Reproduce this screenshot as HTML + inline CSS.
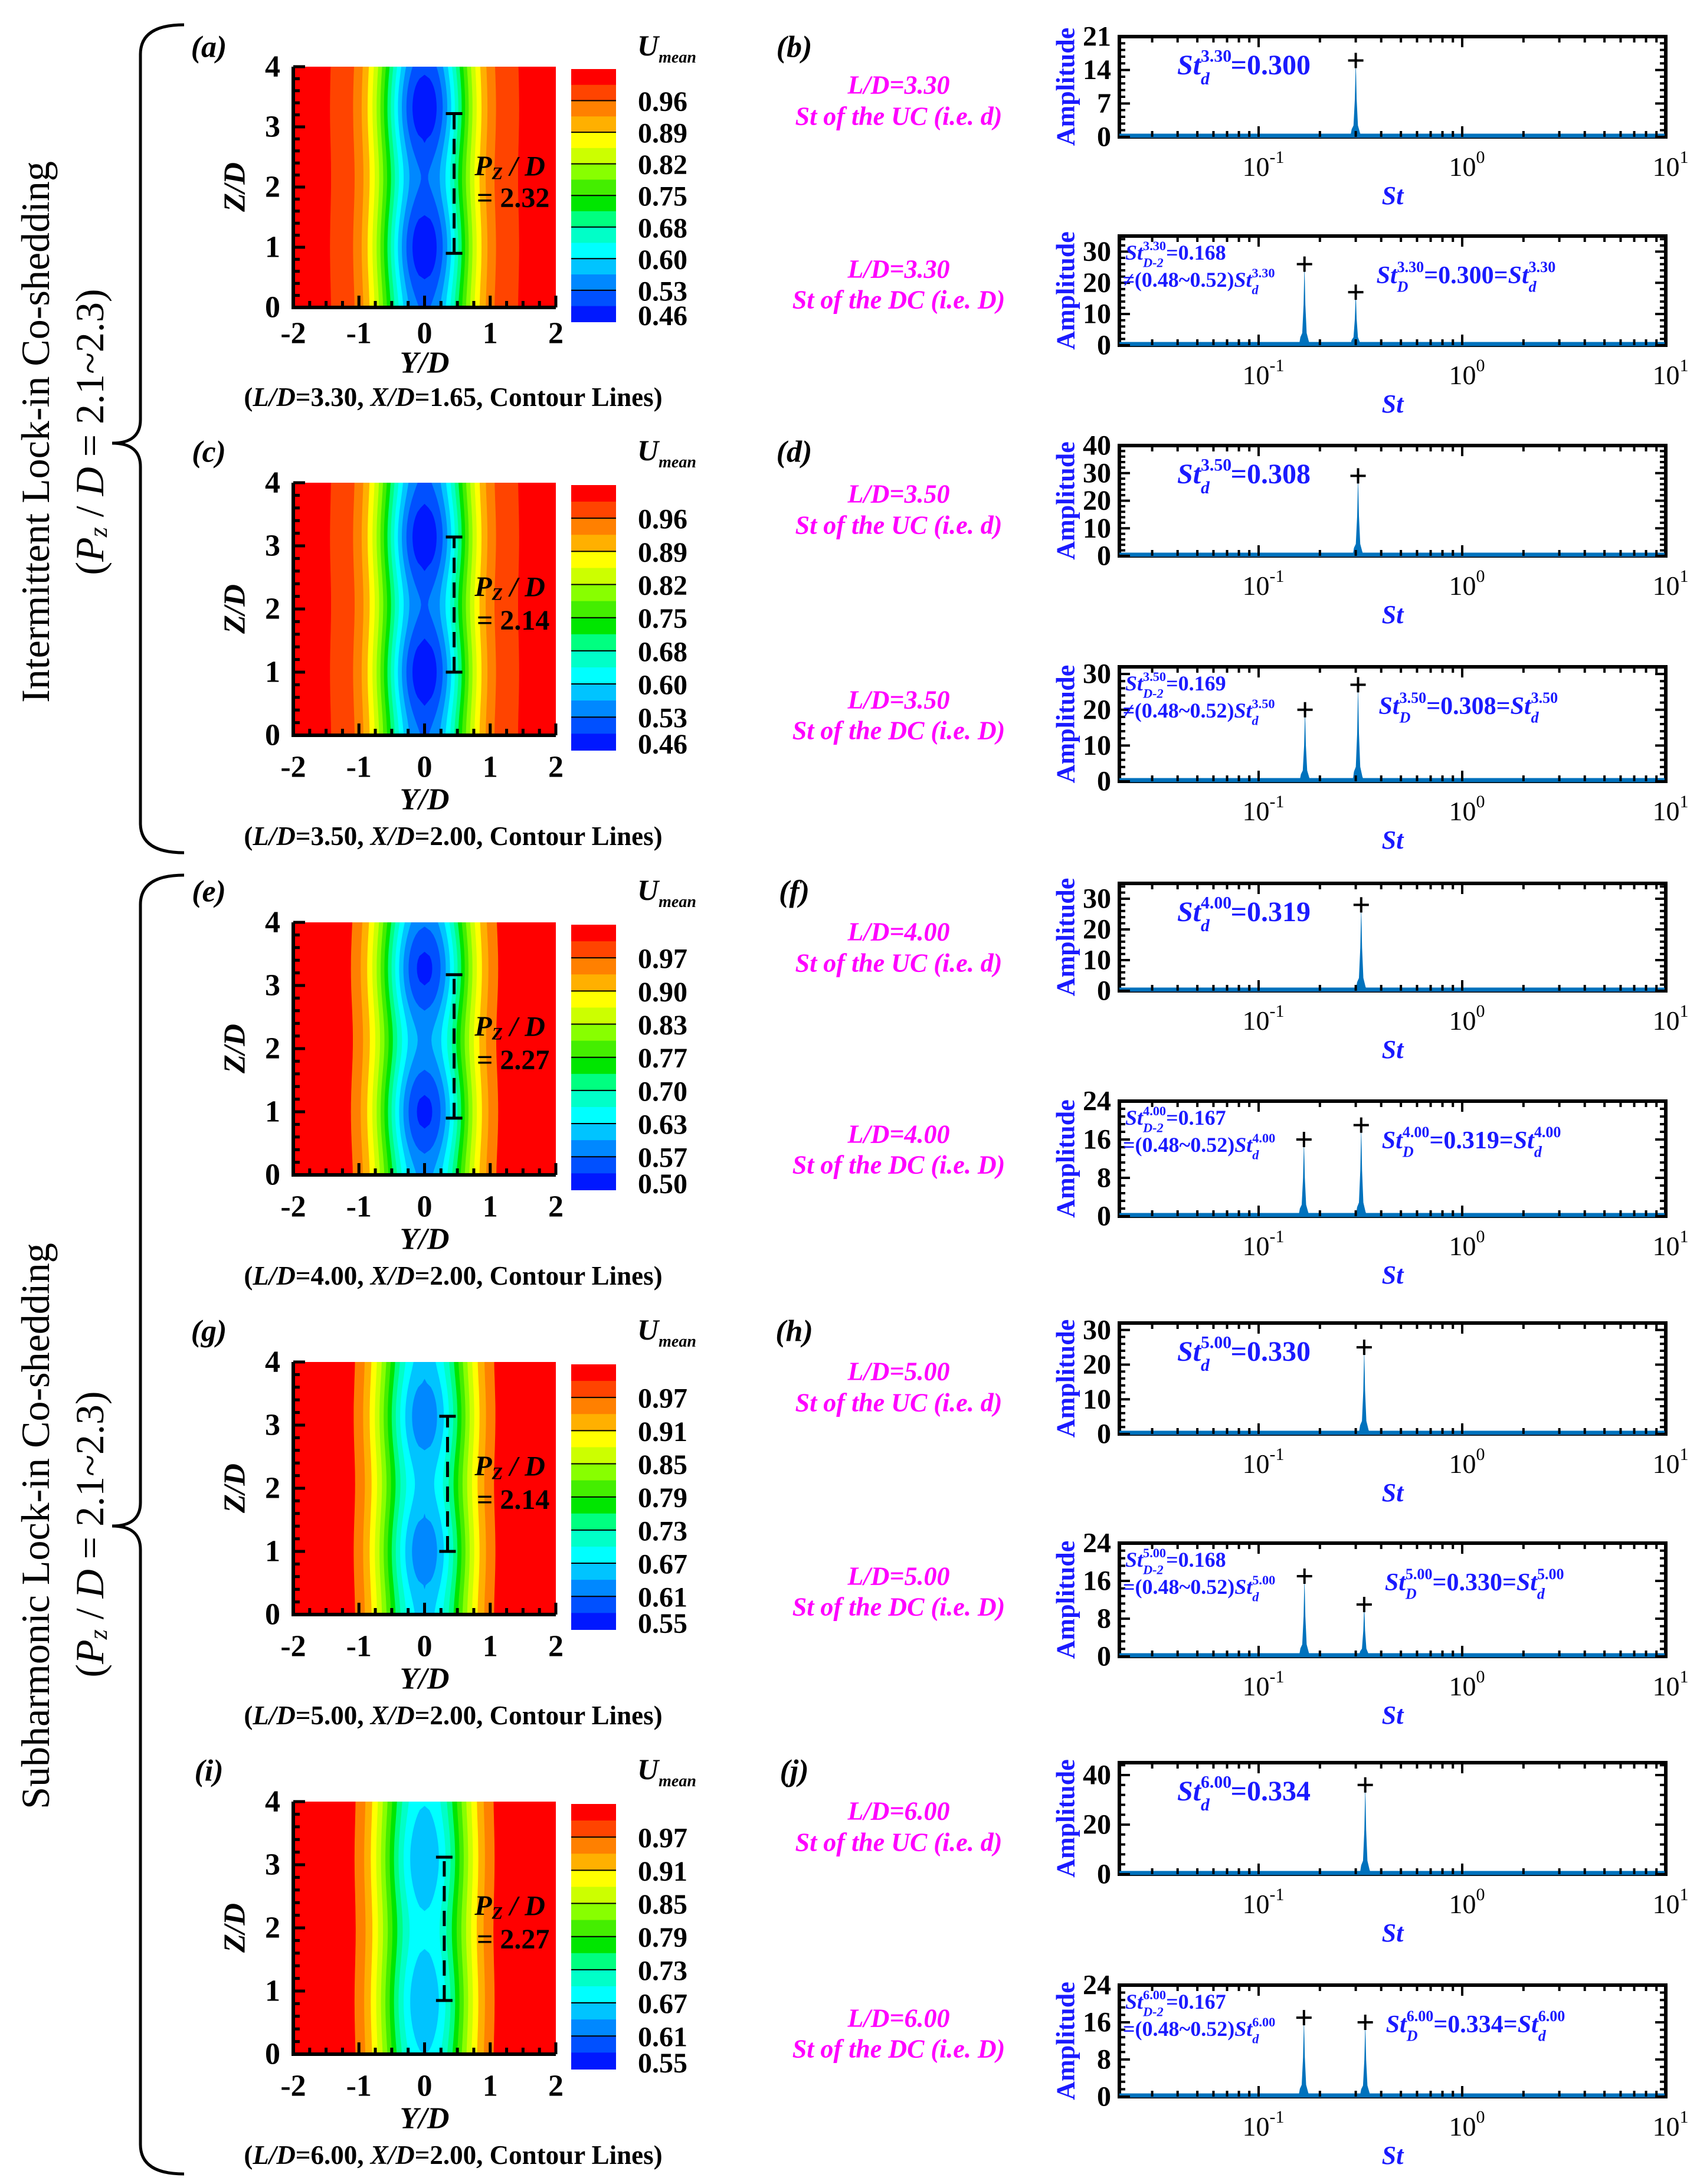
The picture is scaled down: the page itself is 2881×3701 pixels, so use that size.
<!DOCTYPE html>
<html><head><meta charset="utf-8"><title>Co-shedding figure</title>
<style>
html,body{margin:0;padding:0;background:#fff;}
svg{display:block;}
text{font-family:"Liberation Serif",serif;}
</style></head>
<body>
<svg id="fig" xmlns="http://www.w3.org/2000/svg" width="2881" height="3701" viewBox="0 0 2881 3701">
<rect width="2881" height="3701" fill="#fff"/>
</svg>
<script>
// ---------- contour panel data ----------
const panelIds = ['a','c','e','g','i'];
const ldValues = ['3.30','3.50','4.00','5.00','6.00'];
const xdValues = ['1.65','2.00','2.00','2.00','2.00'];
const cbarLabels0 = ['0.96','0.89','0.82','0.75','0.68','0.60','0.53','0.46'];
const cbarLabels1 = ['0.96','0.89','0.82','0.75','0.68','0.60','0.53','0.46'];
const cbarLabels2 = ['0.97','0.90','0.83','0.77','0.70','0.63','0.57','0.50'];
const cbarLabels3 = ['0.97','0.91','0.85','0.79','0.73','0.67','0.61','0.55'];
const cbarLabels4 = ['0.97','0.91','0.85','0.79','0.73','0.67','0.61','0.55'];
const wakeDeficitMean = [0.5,0.5,0.44,0.36,0.34];
const wakeDeficitVar = [0.03,0.03,0.035,0.02,0.015];
const blobZ = [1.0,1.0,1.0,1.0,3.1];
const pzValues = [2.32,2.14,2.27,2.14,2.27];
const pzBarY = [0.45,0.45,0.45,0.35,0.3];
const pzBarZ0 = [0.9,1.0,0.9,1.0,0.85];
const yTickVals = [-2,-1,0,1,2];
const zTickVals = [0,1,2,3,4];
// ---------- spectrum data ----------
const ucLetters = ['b','d','f','h','j'];
const stUC = [0.300,0.308,0.319,0.330,0.334];
const ampUC = [16,29,28,25,36];
const yMaxUC = [21,40,35,32,45];
const yTicksUC0 = [0,7,14,21];
const yTicksUC1 = [0,10,20,30,40];
const yTicksUC2 = [0,10,20,30];
const yTicksUC3 = [0,10,20,30];
const yTicksUC4 = [0,20,40];
const stD2 = [0.168,0.169,0.167,0.168,0.167];
const ampD2 = [26,20,16,17,17];
const stD = [0.300,0.308,0.319,0.330,0.334];
const ampD = [17,27,19,11,16];
const yMaxDC = [35,32,24,24,24];
const yTicksDC0 = [0,10,20,30];
const yTicksDC1 = [0,10,20,30];
const yTicksDC2 = [0,8,16,24];
const yTicksDC3 = [0,8,16,24];
const yTicksDC4 = [0,8,16,24];
const relSym = ['≠','≠','=','=','='];
const xTickExps = [-1,0,1];

// ---------- layout (not data) ----------
const cbarLabelSets=[cbarLabels0,cbarLabels1,cbarLabels2,cbarLabels3,cbarLabels4];
const yTicksUCSets=[yTicksUC0,yTicksUC1,yTicksUC2,yTicksUC3,yTicksUC4];
const yTicksDCSets=[yTicksDC0,yTicksDC1,yTicksDC2,yTicksDC3,yTicksDC4];
const cTops=[113,818,1563,2308,3053];
const cHs=[408,428,428,428,428];
const ucTop=[62,755,1497,2242,2987], ucBot=[232,942,1679,2430,3176];
const dcTop=[400,1130,1866,2615,3364], dcBot=[585,1324,2061,2807,3553];
const jet=['#ff0000','#ff4400','#ff8000','#ffb000','#ffff00','#ccff00','#88ff00','#44ee00','#00e600','#00ff80','#00ffc8','#00ffff','#00c4ff','#0088ff','#0050ff','#0018ff'];

const NS='http://www.w3.org/2000/svg';
const svg=document.getElementById('fig');
function mk(tag,parent){const e=document.createElementNS(NS,tag);parent.appendChild(e);return e;}
function at(e,o){for(const k in o)e.setAttribute(k,o[k]);return e;}
function txt(parent,x,y,html,size,extra){
  const t=mk('text',parent);
  at(t,{x:x,y:y,'font-size':size,'font-weight':'bold'});
  if(extra)at(t,extra);
  t.innerHTML=html;return t;
}
function cw(s,fs){let w=0;for(const c of s){if('0123456789'.includes(c))w+=0.5;else if(c==='.')w+=0.25;else if(c==='-')w+=0.33;else if(c==='D')w+=0.72;else w+=0.55;}return w*fs;}
function stH(sup,sub,fs,rest){
  const s=fs*0.62;const sw=cw(sup,s),bw=cw(sub,s);
  return `<tspan font-style="italic">St</tspan><tspan font-size="${s}" dy="${-fs*0.45}">${sup}</tspan><tspan font-size="${s}" font-style="italic" dx="${-sw}" dy="${fs*0.8}">${sub}</tspan><tspan dx="${Math.max(0,sw-bw)}" dy="${-fs*0.35}">${rest}</tspan>`;
}

// ---------- brackets & side titles ----------
const brk=mk('g',svg);


function brace(y0,y1,ty,name){
  const p=mk('path',brk);
  at(p,{d:`M312,${y0} Q238,${y0} 238,${y0+50} L238,${ty-40} Q238,${ty} 190,${ty} Q238,${ty} 238,${ty+40} L238,${y1-50} Q238,${y1} 312,${y1}`,fill:'none',stroke:'#000','stroke-width':5});
  
  
}
brace(42,1445,751,'bracket-intermittent');
brace(1483,3684,2586,'bracket-subharmonic');
function sideText(x,y,html,name){
  const t=txt(brk,0,0,html,68,{'font-weight':'normal','text-anchor':'middle',transform:`translate(${x},${y}) rotate(-90)`,'dominant-baseline':'central'});
  
  
}
sideText(60,732,'Intermittent  Lock-in Co-shedding','title-intermittent');
sideText(152,732,'(<tspan font-style="italic">P</tspan><tspan font-size="44" dy="14" font-style="italic">z</tspan><tspan dy="-14"> / </tspan><tspan font-style="italic">D</tspan> = 2.1~2.3)','title-intermittent-range');
sideText(60,2586,'Subharmonic Lock-in Co-shedding','title-subharmonic');
sideText(152,2600,'(<tspan font-style="italic">P</tspan><tspan font-size="44" dy="14" font-style="italic">z</tspan><tspan dy="-14"> / </tspan><tspan font-style="italic">D</tspan> = 2.1~2.3)','title-subharmonic-range');

// ---------- contour panels ----------
const defs=mk('defs',svg);
for(let i=0;i<5;i++){
  const id=panelIds[i],top=cTops[i],h=cHs[i],L=497,R=942,B=top+h;
  const sx=Y=>L+(Y+2)/4*(R-L), sz=Z=>B-Z/4*h;
  const g=mk('g',svg);
  
  
  const cp=mk('clipPath',defs);cp.setAttribute('id','clip'+i);
  at(mk('rect',cp),{x:L,y:top,width:R-L,height:h});
  const fld=mk('g',g);at(fld,{'clip-path':`url(#clip${i})`});
  
  
  const bg=mk('rect',fld);at(bg,{x:L,y:top,width:R-L,height:h,fill:jet[0]});
  
  
  const labs=cbarLabelSets[i];
  const l0=parseFloat(labs[0]),step=(l0-parseFloat(labs[7]))/7;
  const Pz=pzValues[i],sig=0.71,ex=0.45;
  const A=Z=>wakeDeficitMean[i]+wakeDeficitVar[i]*Math.cos(2*Math.PI*(Z-blobZ[i])/Pz);
  for(let k=1;k<16;k++){
    const Lk=l0-(k-2)*step/2;
    const right=[],left=[];
    for(let n=0;n<=60;n++){
      const Z=n/60*4;const a=A(Z);const r=(1-Lk)/a;
      const w=r<1?sig*Math.pow(-Math.log(r),ex):0;
      right.push(`${sx(w).toFixed(1)},${sz(Z).toFixed(1)}`);
      left.unshift(`${sx(-w).toFixed(1)},${sz(Z).toFixed(1)}`);
    }
    const pg=mk('polygon',fld);at(pg,{points:right.concat(left).join(' '),fill:jet[k]});
    
    
  }
  const ax=mk('path',g);at(ax,{d:`M${L},${top} L${L},${B} L${R},${B}`,fill:'none',stroke:'#000','stroke-width':6});
  
  
  let td='';
  for(let z=0;z<=4.001;z+=0.2){const maj=Math.abs(z-Math.round(z))<0.01;td+=`M${L},${sz(z)} h${maj?20:11} `;}
  for(let y=-2;y<=2.001;y+=0.25){const maj=Math.abs(y-Math.round(y))<0.01;td+=`M${sx(y)},${B} v${maj?-20:-11} `;}
  const tk=mk('path',g);at(tk,{d:td,stroke:'#000','stroke-width':5});
  
  
  const tyo=i===0?44:54, tto=i===0?94:109, cco=i===0?152:171;
  for(const v of yTickVals){const t=txt(g,sx(v),B+tyo,String(v),52,{'text-anchor':'middle','dominant-baseline':'central'});
    }
  for(const v of zTickVals){const t=txt(g,L-22,sz(v),String(v),52,{'text-anchor':'end','dominant-baseline':'central'});
    }
  const yt=txt(g,(L+R)/2,B+tto,'Y/D',52,{'text-anchor':'middle','dominant-baseline':'central','font-style':'italic'});
  
  const zt=txt(g,0,0,'Z/D',52,{'text-anchor':'middle','dominant-baseline':'central','font-style':'italic',transform:`translate(398,${top+h/2}) rotate(-90)`});
  
  const cap=txt(g,768,B+cco,`(<tspan font-style="italic">L/D</tspan>=${ldValues[i]}, <tspan font-style="italic">X/D</tspan>=${xdValues[i]}, Contour Lines)`,45,{'text-anchor':'middle','dominant-baseline':'central'});
  
  const ly=i===0?80:top-52;
  const lt=txt(g,354,ly,`(${id})`,52,{'text-anchor':'middle','dominant-baseline':'central','font-style':'italic'});
  
  const cbT=top+4,cbH=h*1.05,cbL=968,cbW=76;
  const cb=mk('g',g);
  
  
  for(let k=0;k<16;k++){const r=mk('rect',cb);at(r,{x:cbL,y:cbT+k*cbH/16,width:cbW,height:cbH/16+0.6,fill:jet[k]});
    }
  let cl='';for(let k=2;k<16;k+=2)cl+=`M${cbL},${cbT+k*cbH/16} h${cbW} `;
  const cbl=mk('path',cb);at(cbl,{d:cl,stroke:'#000','stroke-width':2});
  for(let j=0;j<8;j++){const t=txt(cb,1165,cbT+(2*j+2)*cbH/16-(j===7?10:-2),labs[j],48,{'text-anchor':'end','dominant-baseline':'central'});
    }
  const ut=txt(g,1080,ly+14,'U<tspan font-size="28" dy="12">mean</tspan>',50,{'font-style':'italic'});
  
  const bx=sx(pzBarY[i]),z0=pzBarZ0[i],z1=z0+pzValues[i];
  const pm=mk('g',g);
  
  
  at(mk('line',pm),{x1:bx,y1:sz(z0),x2:bx,y2:sz(z1),stroke:'#000','stroke-width':5,'stroke-dasharray':'26,16'});
  at(mk('path',pm),{d:`M${bx-14},${sz(z0)} h28 M${bx-14},${sz(z1)} h28`,stroke:'#000','stroke-width':5});
  const pl=txt(pm,sx(1.3),sz(2.35),'P<tspan font-size="30" dy="12">Z</tspan><tspan dy="-12"> / D</tspan>',48,{'text-anchor':'middle','dominant-baseline':'central','font-style':'italic'});
  
  const pv=txt(pm,sx(1.35),sz(1.82),'= '+pzValues[i].toFixed(2),48,{'text-anchor':'middle','dominant-baseline':'central'});
  
}

// ---------- spectra ----------
const SL=1897,SR=2823,logMin=-1.684,logMax=1;
const sxS=s=>SL+(Math.log10(s)-logMin)/(logMax-logMin)*(SR-SL);
function spectrum(i,kind){
  const top=kind==='uc'?ucTop[i]:dcTop[i],bot=kind==='uc'?ucBot[i]:dcBot[i];
  const yMax=kind==='uc'?yMaxUC[i]:yMaxDC[i];
  const ticks=kind==='uc'?yTicksUCSets[i]:yTicksDCSets[i];
  const sy=a=>bot-a/yMax*(bot-top);
  const g=mk('g',svg);
  
  
  const fr=mk('rect',g);at(fr,{x:SL,y:top,width:SR-SL,height:bot-top,fill:'#fff',stroke:'#000','stroke-width':6});
  
  const sts=kind==='uc'?[stUC[i]]:[stD2[i],stD[i]];
  const amps=kind==='uc'?[ampUC[i]]:[ampD2[i],ampD[i]];
  for(let p=0;p<sts.length;p++){
    const s=sts[p],a=amps[p];
    const pts=[[s*0.94,0],[s*0.955,a*0.1],[s*0.975,a*0.15],[s*0.99,a*0.5],[s,a],[s*1.01,a*0.5],[s*1.025,a*0.15],[s*1.05,a*0.05],[s*1.07,0]];
    const pk=mk('polygon',g);at(pk,{points:pts.map(q=>`${sxS(q[0]).toFixed(1)},${sy(q[1]).toFixed(1)}`).join(' '),fill:'#0072bd'});
    
    const mx=sxS(s),my=sy(a);
    const mkr=mk('path',g);at(mkr,{d:`M${mx-13},${my} h26 M${mx},${my-13} v26`,stroke:'#000','stroke-width':4});
    
  }
  const bl=mk('line',g);at(bl,{x1:SL,y1:bot-2,x2:SR,y2:bot-2,stroke:'#0072bd','stroke-width':7});
  
  let td='';
  for(let d=-2;d<=1;d++)for(let m=1;m<=9;m++){const v=m*Math.pow(10,d);const lv=Math.log10(v);if(lv<logMin||lv>logMax)continue;
    const x=sxS(v),len=m===1?18:10;td+=`M${x},${top} v${len} M${x},${bot} v${-len} `;}
  const st=ticks[1]-ticks[0];
  for(let v=0;v<=yMax+1e-6;v+=st/5){const maj=ticks.some(t=>Math.abs(t-v)<1e-6);const len=maj?18:10;td+=`M${SL},${sy(v)} h${len} M${SR},${sy(v)} h${-len} `;}
  const tk=mk('path',g);at(tk,{d:td,stroke:'#000','stroke-width':4});
  
  for(const v of ticks){const t=txt(g,SL-14,sy(v),String(v),48,{'text-anchor':'end','dominant-baseline':'central'});
    }
  for(const e of xTickExps){const t=txt(g,sxS(Math.pow(10,e))+8,bot+66,`10<tspan font-size="30" dy="-22">${e}</tspan>`,46,{'text-anchor':'middle','font-weight':'normal'});
    }
  const xt=txt(g,(SL+SR)/2,bot+114,'St',44,{'text-anchor':'middle','font-style':'italic',fill:'#1a1aff'});
  
  const yt=txt(g,0,0,'Amplitude',44,{'text-anchor':'middle','dominant-baseline':'central',fill:'#1a1aff',transform:`translate(1806,${(top+bot)/2}) rotate(-90)`});
  
  const o1=kind==='uc'?82:56,o2=kind==='uc'?135:108;
  const m1=txt(g,1523,top+o1,'L/D='+ldValues[i],44,{'text-anchor':'middle','dominant-baseline':'central','font-style':'italic',fill:'#ff00ff'});
  
  const m2=txt(g,1523,top+o2,kind==='uc'?'St of the UC (i.e. d)':'St of the DC (i.e. D)',44,{'text-anchor':'middle','dominant-baseline':'central','font-style':'italic',fill:'#ff00ff'});
  
  const ld=ldValues[i];
  if(kind==='uc'){
    const a=txt(g,1995,top+64,stH(ld,'d',48,'='+stUC[i].toFixed(3)),48,{fill:'#1a1aff'});
    
    const lt=txt(g,1346,i===0?80:cTops[i]-52,`(${ucLetters[i]})`,52,{'text-anchor':'middle','dominant-baseline':'central','font-style':'italic'});
    
  }else{
    const a1=txt(g,SL+10,top+40,stH(ld,'D-2',36,'='+stD2[i].toFixed(3)),36,{fill:'#1a1aff'});
    
    const a2=txt(g,SL+6,top+86,relSym[i]+'(0.48~0.52)'+stH(ld,'d',36,''),36,{fill:'#1a1aff'});
    
    const a3=txt(g,sxS(stD[i])+35,top+80,stH(ld,'D',42,'='+stD[i].toFixed(3)+'='+stH(ld,'d',42,'')),42,{fill:'#1a1aff'});
    
  }
}
for(let i=0;i<5;i++){spectrum(i,'uc');spectrum(i,'dc');}
</script>
</body></html>
